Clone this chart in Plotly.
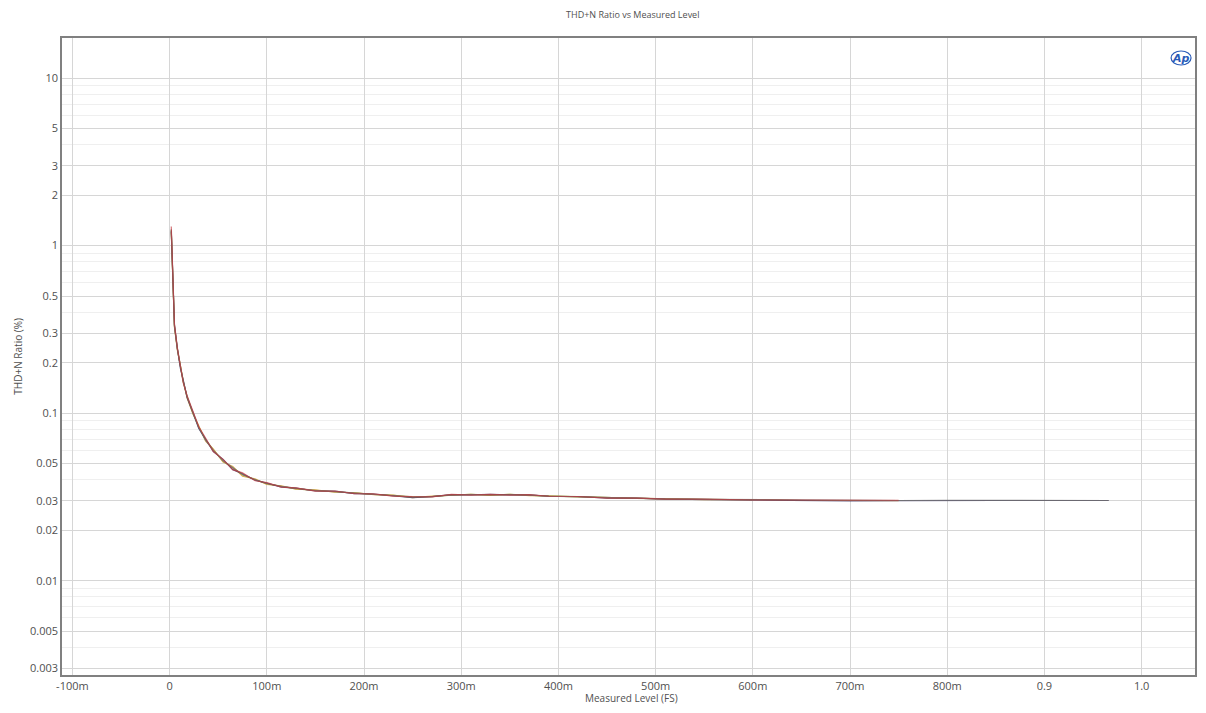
import plotly.graph_objects as go

# ---- data ----
level = [0.0017, 0.0025, 0.0035, 0.005, 0.008, 0.011, 0.014, 0.018, 0.024, 0.03,
         0.037, 0.045, 0.055, 0.065, 0.075, 0.088, 0.1, 0.115, 0.13, 0.15,
         0.17, 0.19, 0.21, 0.23, 0.25, 0.27, 0.29, 0.31, 0.33, 0.35,
         0.37, 0.39, 0.42, 0.45, 0.48, 0.51, 0.55, 0.6, 0.65, 0.7,
         0.75, 0.8, 0.85, 0.9, 0.966]

thdn_gray = [1.25, 0.85, 0.5, 0.33, 0.24, 0.19, 0.155, 0.125, 0.1, 0.082,
             0.069, 0.06, 0.052, 0.047, 0.043, 0.040, 0.038, 0.0365, 0.0355, 0.0345,
             0.034, 0.0333, 0.0328, 0.0322, 0.0315, 0.0318, 0.0325, 0.0326, 0.0325, 0.0326,
             0.0324, 0.032, 0.0317, 0.0312, 0.031, 0.0308, 0.0306, 0.0304, 0.0302, 0.0300,
             0.0301, 0.0302, 0.0302, 0.0301, 0.0301]
thdn_navy = [1.22, 0.86, 0.51, 0.335, 0.243, 0.186, 0.158, 0.124, 0.101, 0.081,
             0.070, 0.059, 0.053, 0.046, 0.0435, 0.0398, 0.0382, 0.0362, 0.0357, 0.0343,
             0.0342, 0.0331, 0.0329, 0.0321, 0.0313, 0.0317, 0.0326, 0.0325, 0.0327, 0.0325,
             0.0325, 0.0319, 0.0318, 0.0311, 0.0311, 0.0307, 0.0305, 0.0304, 0.0301, 0.0299,
             0.0300, 0.0302, 0.0301, 0.0301, 0.0301]
thdn_orange = [1.2, 0.83, 0.49, 0.325, 0.238, 0.188, 0.157, 0.123, 0.099, 0.084,
               0.068, 0.061, 0.051, 0.048, 0.042, 0.0405, 0.0375, 0.0368, 0.0352, 0.0348,
               0.0337, 0.0336, 0.0326, 0.0324, 0.0313, 0.0320, 0.0323, 0.0328, 0.0323, 0.0328,
               0.0322, 0.0321, 0.0316, 0.0313, 0.0309, 0.0309, 0.0305, 0.0305, 0.0301, 0.0301,
               0.0300]
thdn_green = [1.24, 0.84, 0.505, 0.33, 0.242, 0.191, 0.153, 0.126, 0.0995, 0.0825,
              0.0695, 0.0605, 0.0515, 0.0472, 0.0428, 0.0402, 0.0378, 0.0366, 0.0353, 0.0346,
              0.0339, 0.0334, 0.0327, 0.0323, 0.0316, 0.0317, 0.0324, 0.0327, 0.0324, 0.0327,
              0.0323, 0.0320, 0.0317, 0.0312, 0.0310, 0.0308, 0.0306, 0.0304]
thdn_red = [1.3, 0.87, 0.52, 0.34, 0.245, 0.192, 0.152, 0.127, 0.102, 0.083,
            0.071, 0.059, 0.053, 0.046, 0.044, 0.0395, 0.0385, 0.0362, 0.0358, 0.0342,
            0.0343, 0.0331, 0.0330, 0.0320, 0.0317, 0.0316, 0.0327, 0.0324, 0.0327, 0.0324,
            0.0326, 0.0319, 0.0318, 0.0311, 0.0311, 0.0307, 0.0307, 0.0303, 0.0303, 0.0301,
            0.0302]

x_tickvals = [-0.1, 0, 0.1, 0.2, 0.3, 0.4, 0.5, 0.6, 0.7, 0.8, 0.9, 1.0]
x_ticktext = ["-100m", "0", "100m", "200m", "300m", "400m", "500m", "600m", "700m", "800m", "0.9", "1.0"]
y_tickvals = [0.003, 0.005, 0.01, 0.02, 0.03, 0.05, 0.1, 0.2, 0.3, 0.5, 1, 2, 3, 5, 10]
y_ticktext = ["0.003", "0.005", "0.01", "0.02", "0.03", "0.05", "0.1", "0.2", "0.3", "0.5", "1", "2", "3", "5", "10"]
y_minor = [0.004, 0.006, 0.007, 0.008, 0.009, 0.04, 0.06, 0.07, 0.08, 0.09,
           0.4, 0.6, 0.7, 0.8, 0.9, 4, 6, 7, 8, 9]

series = [
    ("Ch1", level, thdn_green, "#6e9a3c", 0.8),
    ("Ch2", level, thdn_orange, "#d9a03a", 0.85),
    ("Ch3", level, thdn_navy, "#3a3160", 0.8),
    ("Ch4", level, thdn_gray, "#707070", 0.8),
    ("Ch5", level, thdn_red, "#c43a3e", 0.7),
]

fig = go.Figure()
for name, xs, ys, col, op in series:
    n = len(ys)
    fig.add_trace(go.Scatter(x=xs[:n], y=ys, mode="lines", name=name,
                             line=dict(color=col, width=1.2), opacity=op,
                             showlegend=False))

FONT = "Open Sans, DejaVu Sans, sans-serif"
TXT = "#505050"

fig.update_layout(
    width=1190, height=697,
    margin=dict(l=54, r=1, t=30, b=30),
    paper_bgcolor="white", plot_bgcolor="white",
    font=dict(family=FONT, size=11, color=TXT),
    title=dict(text="THD+N Ratio vs Measured Level", x=0.525, xanchor="center",
               y=0.990, yanchor="middle", font=dict(size=9, color=TXT)),
    xaxis=dict(range=[-0.1107, 1.0549], tickvals=x_tickvals, ticktext=x_ticktext,
               showgrid=True, gridcolor="#d6d6d6", gridwidth=1, zeroline=False,
               showline=True, linecolor="#808080", linewidth=1.5, mirror=True,
               ticks="", tickfont=dict(size=11, color=TXT)),
    yaxis=dict(type="log", range=[-2.563, 1.239], tickvals=y_tickvals, ticktext=y_ticktext,
               showgrid=True, gridcolor="#d6d6d6", gridwidth=1, zeroline=False,
               showline=True, linecolor="#808080", linewidth=1.5, mirror=True,
               ticks="", tickfont=dict(size=11, color=TXT),
               minor=dict(tickvals=y_minor, showgrid=True, gridcolor="#efefef", gridwidth=1)),
    annotations=[
        dict(text="Measured Level (FS)", xref="paper", yref="paper", x=0.503, y=-0.036,
             xanchor="center", yanchor="middle", showarrow=False, font=dict(size=10, color=TXT)),
        dict(text="THD+N Ratio (%)", xref="paper", yref="paper", x=-0.0396, y=0.5,
             xanchor="center", yanchor="middle", textangle=-90, showarrow=False,
             font=dict(size=10, color=TXT)),
        dict(text="<b><i>Ap</i></b>", xref="paper", yref="paper", x=0.9877, y=0.9686,
             xanchor="center", yanchor="middle", showarrow=False,
             font=dict(size=11, color="#2a5bb8", family="DejaVu Sans")),
    ],
    shapes=[
        dict(type="circle", xref="paper", yref="paper", x0=0.9789, x1=0.9965, y0=0.9576, y1=0.9796,
             line=dict(color="#2a5bb8", width=1.2)),
    ],
)

fig.write_html("out.html")
